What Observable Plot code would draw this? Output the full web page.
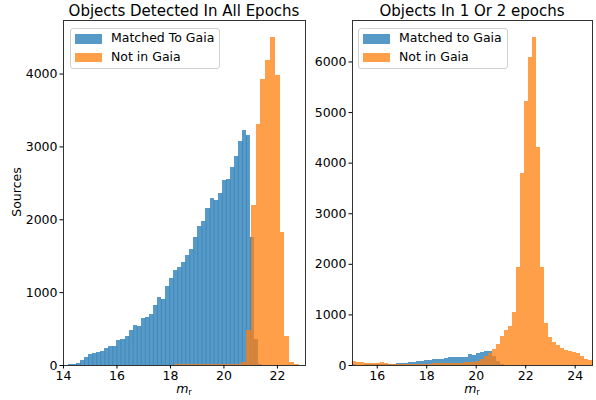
<!DOCTYPE html>
<html>
<head>
<meta charset="utf-8">
<script src="https://cdn.jsdelivr.net/npm/d3@7"></script>
<script src="https://cdn.jsdelivr.net/npm/@observablehq/plot@0.6"></script>
<style>
  html, body { margin: 0; padding: 0; background: #fff; }
  #root { position: relative; width: 596px; height: 400px; font-family: "DejaVu Sans", sans-serif; color: #000; overflow: hidden; }
  .panel { position: absolute; top: 0; }
  .title { position: absolute; white-space: nowrap; transform: translateX(-50%); line-height: 1; font-size: 15px; }
  .xlabel { position: absolute; font-size: 12.5px; white-space: nowrap; transform: translateX(-50%); line-height: 1; }
  .xlabel sub { font-size: 8.5px; line-height: 0; vertical-align: -2px; }
  .ylabel { position: absolute; font-size: 12.5px; white-space: nowrap; transform: translate(-50%, -50%) rotate(-90deg); line-height: 1; }
  .legend { position: absolute; border: 1px solid #d0d0d0; border-radius: 3px; background: rgba(255,255,255,0.8); box-sizing: border-box; }
  .lg-patch { position: absolute; width: 27px; height: 9.5px; }
  .lg-text { position: absolute; font-size: 12.5px; white-space: nowrap; line-height: 1; }
  svg rect { shape-rendering: crispEdges; }
</style>
</head>
<body>
<div id="root"></div>
<script>
// ---------------- data ----------------
const leftTitle = "Objects Detected In All Epochs";
const rightTitle = "Objects In 1 Or 2 epochs";
const leftLegend = ["Matched To Gaia", "Not in Gaia"];
const rightLegend = ["Matched to Gaia", "Not in Gaia"];
const yLabel = "Sources";

// Left panel: matched-to-Gaia histogram (50 bins)
const leftBlueStart = 14.03;
const leftBlueWidth = 0.1514;
const leftBlueCounts = [5, 9, 18, 32, 68, 110, 150, 164, 178, 192, 233, 260, 260, 342, 356, 397, 479, 543, 530, 644,
  657, 699, 822, 931, 904, 1082, 1192, 1301, 1342, 1411, 1507, 1589, 1753, 1904, 1973, 2151, 2288, 2260, 2356, 2540,
  2548, 2712, 2863, 3068, 3228, 3151, 1760, 356, 20, 5];

// Left panel: not-in-Gaia histogram (50 bins)
const leftOrangeStart = 14.0;
const leftOrangeWidth = 0.18;
const leftOrangeCounts = [1, 1, 1, 2, 2, 2, 3, 3, 3, 4, 4, 4, 4, 5, 5, 5, 5, 5, 6, 6, 6, 6, 6, 7, 7, 7, 8, 8, 8, 8,
  9, 9, 10, 12, 8, 10, 18, 40, 480, 2200, 3310, 3925, 4180, 4500, 3975, 1830, 400, 45, 8, 5];

// Right panel: shared bins (60 bins from 15 to 24.7)
const rightStart = 15.0;
const rightWidth = 9.7 / 60;
const rightBlueCounts = [10, 8, 8, 10, 10, 12, 12, 15, 15, 18, 25,
  45, 35, 45, 60, 65, 80, 75, 95, 95, 110, 120, 115, 135, 150, 165, 160, 165, 160, 215, 200, 240, 262, 282, 270,
  180, 80, 20, 5, 3, 2, 0, 0, 0, 0, 0, 0, 0, 0, 0, 0, 0, 0, 0, 0, 0, 0, 0, 0, 0];
const rightOrangeCounts = [80, 65, 60, 35, 30, 30, 30, 55, 30, 25, 22, 20, 20, 20, 22, 22, 25, 25, 28, 28, 30, 30, 32, 35,
  35, 40, 45, 45, 50, 55, 65, 85, 125, 180, 240, 310, 410, 580, 690, 780, 1048, 1932, 3805, 5216, 6090, 6475, 4300,
  1935, 837, 547, 462, 405, 343, 300, 277, 250, 231, 180, 119, 99];

const leftXTicks = [14, 16, 18, 20, 22];
const leftYTicks = [0, 1000, 2000, 3000, 4000];
const rightXTicks = [16, 18, 20, 22, 24];
const rightYTicks = [0, 1000, 2000, 3000, 4000, 5000, 6000];

// ---------------- helpers ----------------
const BLUE = "#1f77b4", ORANGE = "#ff7f0e", ALPHA = 0.75;
function bins(start, width, counts) {
  return counts.map((c, i) => ({x1: start + i * width, x2: start + (i + 1) * width, y: c}));
}
// seams between adjacent bars (drawn darker, as in the reference rendering)
function seams(start, width, counts) {
  const out = [];
  for (let i = 1; i < counts.length; i++) out.push({x: start + i * width, y: Math.min(counts[i - 1], counts[i])});
  return out;
}

function panel({blue, orange, blueSeams, xDomain, yDomain, xTicks, yTicks, width, marginLeft, marginRight}) {
  const marks = [
    Plot.rectY(blue, {x1: "x1", x2: "x2", y: "y", fill: BLUE, fillOpacity: ALPHA, inset: 0, clip: true})
  ];
  if (blueSeams) marks.push(Plot.ruleX(blueSeams, {x: "x", y1: 0, y2: "y", stroke: BLUE, strokeOpacity: 0.55, strokeWidth: 0.8, clip: true}));
  marks.push(
    Plot.rectY(orange, {x1: "x1", x2: "x2", y: "y", fill: ORANGE, fillOpacity: ALPHA, inset: 0, clip: true}),
    Plot.frame({stroke: "#000", strokeWidth: 0.8}),
    Plot.axisX({ticks: xTicks, tickSize: 3.5, tickPadding: 2.5, label: null, tickFormat: d3.format("d")}),
    Plot.axisY({ticks: yTicks, tickSize: 3.5, tickPadding: 2.5, label: null, tickFormat: d3.format("d")})
  );
  return Plot.plot({
    width, height: 400,
    marginLeft, marginRight, marginTop: 20, marginBottom: 35,
    style: {fontFamily: "DejaVu Sans, sans-serif", fontSize: "12.5px", color: "#000", background: "transparent", overflow: "visible"},
    x: {domain: xDomain},
    y: {domain: yDomain},
    marks
  });
}

const root = document.getElementById("root");

const left = panel({
  blue: bins(leftBlueStart, leftBlueWidth, leftBlueCounts),
  orange: bins(leftOrangeStart, leftOrangeWidth, leftOrangeCounts),
  blueSeams: seams(leftBlueStart, leftBlueWidth, leftBlueCounts),
  xDomain: [14, 23.05], yDomain: [0, 4735],
  xTicks: leftXTicks, yTicks: leftYTicks,
  width: 310, marginLeft: 63, marginRight: 5
});
left.classList.add("panel");
left.style.left = "0px";
root.appendChild(left);

const right = panel({
  blue: bins(rightStart, rightWidth, rightBlueCounts),
  orange: bins(rightStart, rightWidth, rightOrangeCounts),
  xDomain: [15, 24.7], yDomain: [0, 6820],
  xTicks: rightXTicks, yTicks: rightYTicks,
  width: 296, marginLeft: 52, marginRight: 4
});
right.classList.add("panel");
right.style.left = "300px";
root.appendChild(right);

function add(html, cls, css) {
  const el = document.createElement("div");
  el.className = cls;
  el.innerHTML = html;
  Object.assign(el.style, css);
  root.appendChild(el);
  return el;
}

// titles
add(leftTitle, "title", {left: "184px", top: "4px"});
add(rightTitle, "title", {left: "472px", top: "4px"});
// x labels
add("<i>m</i><sub>r</sub>", "xlabel", {left: "184px", top: "383px"});
add("<i>m</i><sub>r</sub>", "xlabel", {left: "472px", top: "383px"});
// y label
add(yLabel, "ylabel", {left: "17px", top: "192px"});

// legends
function legend(x, y, labels) {
  add("", "legend", {left: x + "px", top: y + "px", width: "150px", height: "41px"});
  const colors = [BLUE, ORANGE];
  labels.forEach((lab, i) => {
    add("", "lg-patch", {left: (x + 5) + "px", top: (y + 6 + i * 18.7) + "px", background: colors[i], opacity: ALPHA});
    add(lab, "lg-text", {left: (x + 41) + "px", top: (y + 4 + i * 18.7) + "px"});
  });
}
legend(70, 28, leftLegend);
legend(358, 28, rightLegend);
</script>
</body>
</html>
